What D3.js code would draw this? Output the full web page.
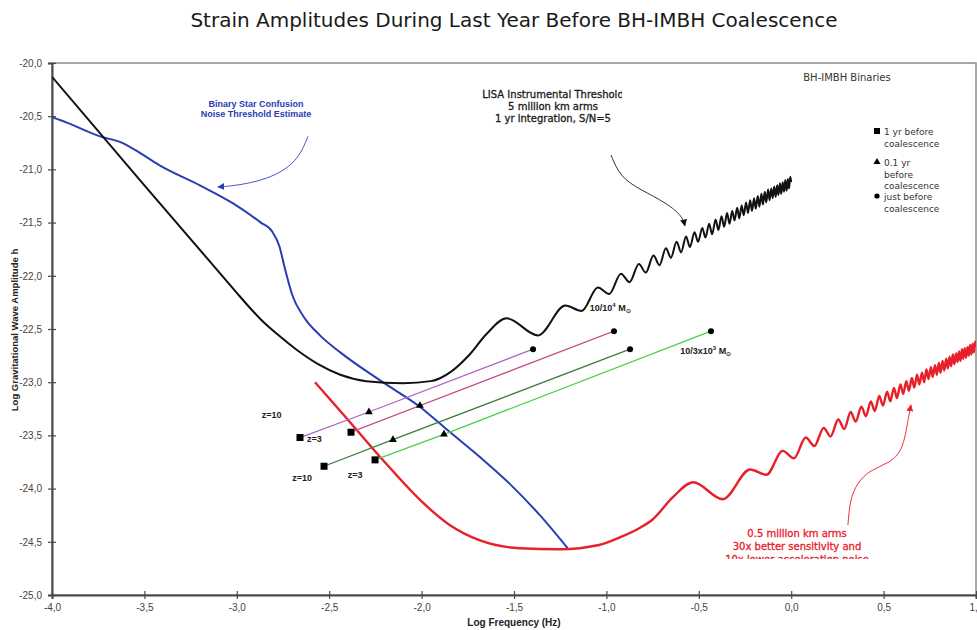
<!DOCTYPE html>
<html>
<head>
<meta charset="utf-8">
<script src="https://cdn.jsdelivr.net/npm/d3@7"></script>
<style>
  body { margin: 0; background: #fff; }
  svg { display: block; font-family: "Liberation Sans", Arial, sans-serif; }
</style>
</head>
<body>
<svg id="chart" width="977" height="630"></svg>
<script>
// axis ticks
const xTicks = [-4, -3.5, -3, -2.5, -2, -1.5, -1, -0.5, 0, 0.5, 1];
const yTicks = [-20, -20.5, -21, -21.5, -22, -22.5, -23, -23.5, -24, -24.5, -25];

// LISA instrumental threshold, 5 million km arms (black)
const lisaSmooth = [[-4.0, -20.13], [-3.5, -21.15], [-3.0, -22.16], [-2.95, -22.26], [-2.87, -22.41],
  [-2.78, -22.55], [-2.68, -22.69], [-2.56, -22.83], [-2.44, -22.93], [-2.3, -22.99], [-2.1, -23.01],
  [-1.95, -22.99], [-1.84, -22.90], [-1.74, -22.74], [-1.65, -22.55]];
const lisaPeaks = [[-1.54, -22.40], [-1.222, -22.28], [-1.046, -22.11], [-0.921, -21.98], [-0.824, -21.89],
  [-0.745, -21.81], [-0.678, -21.74], [-0.620, -21.68], [-0.569, -21.63], [-0.523, -21.59], [-0.481, -21.55],
  [-0.444, -21.51], [-0.409, -21.47], [-0.377, -21.44], [-0.347, -21.41], [-0.319, -21.39], [-0.292, -21.36],
  [-0.268, -21.34], [-0.244, -21.31], [-0.222, -21.29], [-0.201, -21.27], [-0.181, -21.25], [-0.161, -21.23],
  [-0.143, -21.21], [-0.125, -21.19], [-0.108, -21.18], [-0.092, -21.16], [-0.076, -21.15], [-0.061, -21.13],
  [-0.046, -21.12], [-0.032, -21.10], [-0.018, -21.09], [-0.005, -21.07]];
const lisaTroughs = [[-1.37, -22.56], [-1.134, -22.33], [-0.985, -22.17], [-0.875, -22.06], [-0.787, -21.97],
  [-0.713, -21.90], [-0.651, -21.83], [-0.596, -21.78], [-0.548, -21.73], [-0.504, -21.68], [-0.464, -21.64],
  [-0.428, -21.61], [-0.394, -21.57], [-0.363, -21.54], [-0.334, -21.51], [-0.307, -21.48], [-0.281, -21.46],
  [-0.257, -21.43], [-0.234, -21.41], [-0.212, -21.39], [-0.192, -21.37], [-0.172, -21.35], [-0.153, -21.33],
  [-0.135, -21.31], [-0.117, -21.29], [-0.100, -21.27], [-0.084, -21.26], [-0.069, -21.24], [-0.054, -21.23],
  [-0.039, -21.21], [-0.025, -21.20], [-0.012, -21.18], [0.0, -21.12]];

// 0.5 million km arms (red)
const smallSmooth = [[-2.577, -23.0], [-2.4, -23.35], [-2.2, -23.75], [-2.0, -24.12], [-1.85, -24.34],
  [-1.68, -24.49], [-1.47, -24.56], [-1.25, -24.57], [-1.04, -24.53], [-0.93, -24.46], [-0.82, -24.37],
  [-0.75, -24.29], [-0.64, -24.08]];
const smallPeaks = [[-0.53, -23.94], [-0.222, -23.82], [-0.046, -23.645], [0.079, -23.52], [0.176, -23.43],
  [0.255, -23.35], [0.322, -23.28], [0.380, -23.23], [0.431, -23.18], [0.477, -23.13], [0.519, -23.09],
  [0.556, -23.055], [0.591, -23.02], [0.623, -22.99], [0.653, -22.96], [0.681, -22.93], [0.708, -22.91],
  [0.732, -22.88], [0.756, -22.86], [0.778, -22.84], [0.799, -22.82], [0.819, -22.80], [0.839, -22.78],
  [0.857, -22.76], [0.875, -22.74], [0.892, -22.73], [0.908, -22.71], [0.924, -22.69], [0.939, -22.68],
  [0.954, -22.67], [0.968, -22.65], [0.982, -22.64], [0.995, -22.62]];
const smallTroughs = [[-0.37, -24.10], [-0.134, -23.87], [0.015, -23.715], [0.125, -23.60], [0.213, -23.51],
  [0.287, -23.44], [0.349, -23.37], [0.404, -23.32], [0.452, -23.27], [0.496, -23.22], [0.536, -23.18],
  [0.572, -23.15], [0.606, -23.11], [0.637, -23.08], [0.666, -23.05], [0.693, -23.02], [0.719, -23.00],
  [0.743, -22.97], [0.766, -22.95], [0.788, -22.93], [0.808, -22.91], [0.828, -22.89], [0.847, -22.87],
  [0.865, -22.85], [0.883, -22.83], [0.900, -22.81], [0.916, -22.80], [0.931, -22.78], [0.946, -22.77],
  [0.961, -22.75], [0.975, -22.74], [0.988, -22.72], [1.0, -22.67]];

// binary star confusion noise (blue)
const confusion = [[-4.0, -20.51], [-3.92, -20.56], [-3.74, -20.69], [-3.62, -20.75], [-3.52, -20.85],
  [-3.42, -20.96], [-3.2, -21.15], [-3.02, -21.32], [-2.87, -21.5], [-2.81, -21.58], [-2.77, -21.72],
  [-2.74, -21.93], [-2.70, -22.18], [-2.64, -22.38], [-2.55, -22.56], [-2.44, -22.72], [-2.21, -23.0],
  [-2.01, -23.23], [-1.86, -23.45], [-1.68, -23.71], [-1.52, -23.96], [-1.36, -24.25], [-1.21, -24.56]];

// BH-IMBH tracks: 1 yr before, 0.1 yr before, just before coalescence
const track1e4z10 = [[-2.658, -23.52], [-2.285, -23.28], [-1.397, -22.69]];
const track1e4z3 = [[-2.382, -23.47], [-2.009, -23.22], [-0.959, -22.52]];
const track3e3z10 = [[-2.528, -23.79], [-2.155, -23.54], [-0.872, -22.69]];
const track3e3z3 = [[-2.252, -23.73], [-1.879, -23.49], [-0.434, -22.52]];
const trackColors = ['#b066c6', '#c4548e', '#3b7f3e', '#4ccf4c'];

// annotation arrows (data coords)
const blueArrow = [[-2.615, -20.69], [-2.674, -20.94], [-2.837, -21.10], [-3.021, -21.156], [-3.102, -21.165]];
const blackArrow = [[-0.975, -20.865], [-0.926, -21.07], [-0.818, -21.19], [-0.672, -21.316], [-0.586, -21.447], [-0.575, -21.53]];
const redArrow = [[0.307, -24.342], [0.318, -24.107], [0.356, -23.947], [0.426, -23.825], [0.535, -23.759], [0.605, -23.637], [0.632, -23.355], [0.648, -23.214]];

const svg = d3.select('#chart');
const pl = 52, pr = 976, pt = 63, pb = 595;

const x = d3.scaleLinear().domain([-4, 1]).range([pl, pr]);
const y = d3.scaleLinear().domain([-25, -20]).range([pb, pt]);
const fmt = d => d.toFixed(1).replace('.', ',');

svg.append('text')
  .attr('x', 514).attr('y', 27)
  .attr('text-anchor', 'middle')
  .style('font-family', '"DejaVu Sans", sans-serif')
  .style('font-size', '20px')
  .attr('fill', '#1a1a1a')
  .text('Strain Amplitudes During Last Year Before BH-IMBH Coalescence');

const defs = svg.append('defs');
defs.append('clipPath').attr('id', 'plotclip')
  .append('rect').attr('x', pl).attr('y', pt).attr('width', pr - pl).attr('height', pb - pt);
defs.append('clipPath').attr('id', 'lisaclip')
  .append('rect').attr('x', 0).attr('y', 0).attr('width', 622).attr('height', 630);
defs.append('clipPath').attr('id', 'redclip')
  .append('rect').attr('x', 0).attr('y', 0).attr('width', 977).attr('height', 559);

function marker(id, color) {
  defs.append('marker').attr('id', id)
    .attr('viewBox', '0 0 10 10').attr('refX', 9).attr('refY', 5)
    .attr('markerWidth', 7).attr('markerHeight', 7)
    .attr('markerUnits', 'userSpaceOnUse')
    .attr('orient', 'auto')
    .append('path').attr('d', 'M0,0L10,5L0,10Z').attr('fill', color);
}
marker('arrBlue', '#2a3cb4');
marker('arrBlack', '#111');
marker('arrRed', '#e8202a');

// frame
svg.append('rect')
  .attr('x', pl).attr('y', pt).attr('width', pr - pl).attr('height', pb - pt)
  .attr('fill', 'none').attr('stroke', '#8c8c8c').attr('stroke-width', 1.5);

// axes
const yAxis = svg.append('g').attr('transform', `translate(${pl},0)`)
  .call(d3.axisLeft(y).tickValues(yTicks).tickSize(4).tickPadding(6).tickFormat(fmt));
yAxis.selectAll('.tick line').attr('x1', 4).attr('x2', -4);
const xAxis = svg.append('g').attr('transform', `translate(0,${pb})`)
  .call(d3.axisBottom(x).tickValues(xTicks).tickSize(4).tickPadding(5).tickFormat(fmt));
xAxis.selectAll('.tick line').attr('y1', -4).attr('y2', 4);
[yAxis, xAxis].forEach(a => {
  a.select('.domain').attr('stroke', '#4a4a4a').attr('stroke-width', 2);
  a.selectAll('.tick line').attr('stroke', '#4a4a4a').attr('stroke-width', 1.2);
  a.selectAll('.tick text').attr('fill', '#444').style('font-size', '10px')
    .style('font-family', '"Liberation Sans", Arial, sans-serif');
});

svg.append('text')
  .attr('x', (pl + pr) / 2).attr('y', 626)
  .attr('text-anchor', 'middle')
  .style('font-size', '10px').style('font-weight', 'bold').attr('fill', '#222')
  .text('Log Frequency (Hz)');
svg.append('text')
  .attr('transform', 'translate(18,330) rotate(-90)')
  .attr('text-anchor', 'middle')
  .style('font-size', '9.5px').style('font-weight', 'bold').attr('fill', '#222')
  .text('Log Gravitational Wave Amplitude h');

// curves
const line = d3.line().x(d => x(d[0])).y(d => y(d[1])).curve(d3.curveMonotoneX);
const plot = svg.append('g').attr('clip-path', 'url(#plotclip)');

const byX = (a, b) => a[0] - b[0];
const lisa = lisaSmooth.concat(lisaPeaks, lisaTroughs).sort(byX);
const small = smallSmooth.concat(smallPeaks, smallTroughs).sort(byX);

plot.append('path').datum(confusion).attr('d', line)
  .attr('fill', 'none').attr('stroke', '#2a3cb4').attr('stroke-width', 2);
plot.append('path').datum(lisa).attr('d', line)
  .attr('fill', 'none').attr('stroke', '#111').attr('stroke-width', 2);
plot.append('path').datum(small).attr('d', line)
  .attr('fill', 'none').attr('stroke', '#e8202a').attr('stroke-width', 2.4);

// binary tracks
const straight = d3.line().x(d => x(d[0])).y(d => y(d[1]));
[track1e4z10, track1e4z3, track3e3z10, track3e3z3].forEach((t, i) => {
  plot.append('path').datum(t).attr('d', straight)
    .attr('fill', 'none').attr('stroke', trackColors[i]).attr('stroke-width', 1.3);
  plot.append('rect')
    .attr('x', x(t[0][0]) - 3.5).attr('y', y(t[0][1]) - 3.5)
    .attr('width', 7).attr('height', 7).attr('fill', '#000');
  plot.append('path')
    .attr('d', d3.symbol(d3.symbolTriangle, 26)())
    .attr('transform', `translate(${x(t[1][0])},${y(t[1][1])})`).attr('fill', '#000');
  plot.append('circle')
    .attr('cx', x(t[2][0])).attr('cy', y(t[2][1])).attr('r', 3).attr('fill', '#000');
});

// arrows
const curvy = d3.line().x(d => x(d[0])).y(d => y(d[1])).curve(d3.curveBasis);
plot.append('path').datum(blueArrow).attr('d', curvy).attr('fill', 'none')
  .attr('stroke', '#4656c0').attr('stroke-width', 1).attr('marker-end', 'url(#arrBlue)');
plot.append('path').datum(blackArrow).attr('d', curvy).attr('fill', 'none')
  .attr('stroke', '#333').attr('stroke-width', 1).attr('marker-end', 'url(#arrBlack)');
plot.append('path').datum(redArrow).attr('d', curvy).attr('fill', 'none')
  .attr('stroke', '#e8303c').attr('stroke-width', 1).attr('marker-end', 'url(#arrRed)');

// annotations
function lines(g, cx, ys, texts, opts) {
  texts.forEach((t, i) => {
    const el = g.append('text').attr('x', cx).attr('y', ys[i])
      .attr('text-anchor', opts.anchor || 'middle')
      .style('font-family', opts.family || '"DejaVu Sans", sans-serif')
      .style('font-size', opts.size).style('font-weight', opts.weight || 'normal')
      .attr('fill', opts.color).text(t);
    if (opts.heavy) el.attr('stroke', opts.color).attr('stroke-width', 0.3);
  });
}
lines(svg, 256, [107, 117], ['Binary Star Confusion', 'Noise Threshold Estimate'],
  { size: '9px', weight: 'bold', color: '#2a3cb4', family: '"Liberation Sans", Arial, sans-serif' });
lines(svg.append('g').attr('clip-path', 'url(#lisaclip)'), 553, [98, 110, 122],
  ['LISA Instrumental Threshold', '5 million km arms', '1 yr integration, S/N=5'],
  { size: '10px', color: '#1a1a1a', heavy: true });
lines(svg.append('g').attr('clip-path', 'url(#redclip)'), 797, [537, 550, 563],
  ['0.5 million km arms', '30x better sensitivity and', '10x lower acceleration noise'],
  { size: '10px', color: '#e8202a', heavy: true });
lines(svg, 847, [81], ['BH-IMBH Binaries'], { size: '10px', color: '#333' });

// legend
const legendItems = [
  { sym: 'square', cy: 131, text: ['1 yr before', 'coalescence'] },
  { sym: 'triangle', cy: 162, text: ['0.1 yr', 'before', 'coalescence'] },
  { sym: 'circle', cy: 196, text: ['just before', 'coalescence'] }
];
legendItems.forEach(it => {
  const sx = 877;
  if (it.sym === 'square') svg.append('rect').attr('x', sx - 3).attr('y', it.cy - 3).attr('width', 6).attr('height', 6);
  if (it.sym === 'triangle') svg.append('path').attr('d', d3.symbol(d3.symbolTriangle, 22)()).attr('transform', `translate(${sx},${it.cy})`);
  if (it.sym === 'circle') svg.append('circle').attr('cx', sx).attr('cy', it.cy).attr('r', 2.6);
  lines(svg, 884, it.text.map((t, i) => it.cy + 4 + i * 11.5), it.text,
    { size: '9px', color: '#333', anchor: 'start' });
});

// track labels
function bold(tx, ty, txt) {
  return svg.append('text').attr('x', x(tx)).attr('y', y(ty))
    .style('font-size', '9px').style('font-weight', 'bold').attr('fill', '#222').text(txt);
}
bold(-2.865, -23.34, 'z=10');
bold(-2.620, -23.56, 'z=3');
bold(-2.700, -23.93, 'z=10');
bold(-2.400, -23.90, 'z=3');
const m1 = bold(-1.09, -22.33, '10/10');
m1.append('tspan').attr('dy', -4).style('font-size', '6px').text('4');
m1.append('tspan').attr('dy', 4).text(' M');
m1.append('tspan').attr('dy', 2).style('font-size', '6px').text('⊙');
const m2 = bold(-0.60, -22.735, '10/3x10');
m2.append('tspan').attr('dy', -4).style('font-size', '6px').text('3');
m2.append('tspan').attr('dy', 4).text(' M');
m2.append('tspan').attr('dy', 2).style('font-size', '6px').text('⊙');
</script>
</body>
</html>
